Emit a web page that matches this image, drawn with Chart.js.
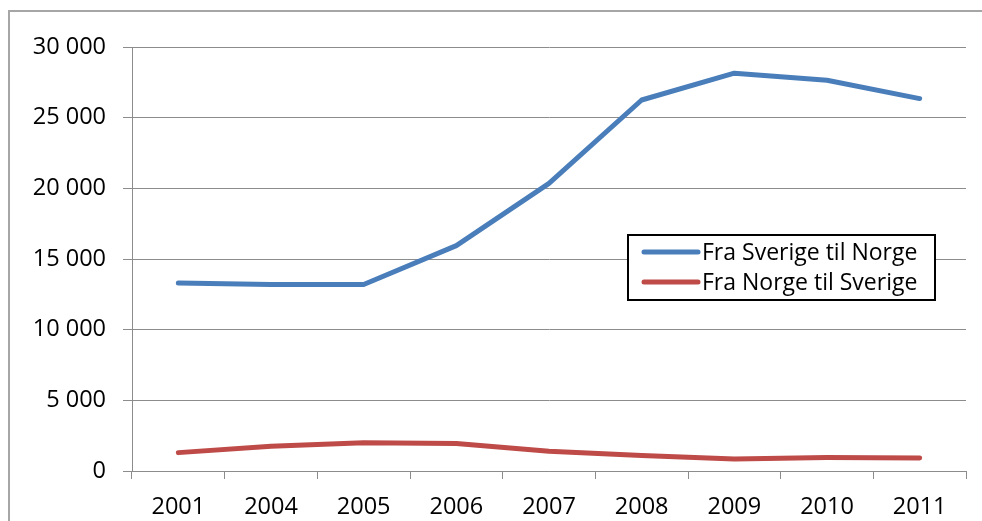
<!DOCTYPE html>
<html>
<head>
<meta charset="utf-8">
<script src="https://cdn.jsdelivr.net/npm/chart.js@4"></script>
<style>
    body { margin: 0; background: #fff; overflow: hidden; }
    #wrap { position: relative; width: 982px; height: 521px; }
    #frame { position: absolute; left: 8px; top: 10px; width: 1100px; height: 600px; border: 2px solid #a6a6a6; box-sizing: border-box; }
    canvas { position: absolute; left: 0; top: 0; }
</style>
</head>
<body>
<div id="wrap">
    <div id="frame"></div>
    <canvas id="chart" width="982" height="521"></canvas>
</div>
<script>
// data
const years = ["2001", "2004", "2005", "2006", "2007", "2008", "2009", "2010", "2011"];
const fraSverige = [13300, 13200, 13200, 15950, 20350, 26250, 28150, 27650, 26350];
const fraNorge = [1300, 1750, 2000, 1950, 1400, 1100, 850, 950, 920];
const yTicks = [0, 5000, 10000, 15000, 20000, 25000, 30000];

const FONT = "'Open Sans', sans-serif";
const GRID = "#8c8c8c";

function formatNum(v) {
    return String(v).replace(/\B(?=(\d{3})+(?!\d))/g, " ");
}

// legend box drawn by hand, like the excel one floating inside the plot
const boxLegend = {
    id: "boxLegend",
    afterDraw(chart) {
        const ctx = chart.ctx;
        const x = 628, y = 235, w = 307, h = 65;
        ctx.save();
        ctx.fillStyle = "#fff";
        ctx.fillRect(x, y, w, h);
        ctx.strokeStyle = "#000";
        ctx.lineWidth = 2;
        ctx.strokeRect(x, y, w, h);
        ctx.font = "23px " + FONT;
        ctx.textBaseline = "middle";
        chart.data.datasets.forEach((ds, i) => {
            const ly = y + 17 + i * 30;
            ctx.strokeStyle = ds.borderColor;
            ctx.lineWidth = 5;
            ctx.lineCap = "round";
            ctx.beginPath();
            ctx.moveTo(x + 16, ly);
            ctx.lineTo(x + 70, ly);
            ctx.stroke();
            ctx.fillStyle = "#000";
            ctx.fillText(ds.label, x + 74, ly + 1);
        });
        ctx.restore();
    }
};

const ctx = document.getElementById("chart").getContext("2d");
new Chart(ctx, {
    type: "line",
    data: {
        labels: years,
        datasets: [
            {
                label: "Fra Sverige til Norge",
                data: fraSverige,
                borderColor: "#4a7ebb",
                borderWidth: 5,
                pointRadius: 0,
                tension: 0,
                borderCapStyle: "round",
                borderJoinStyle: "round"
            },
            {
                label: "Fra Norge til Sverige",
                data: fraNorge,
                borderColor: "#be4b48",
                borderWidth: 5,
                pointRadius: 0,
                tension: 0,
                borderCapStyle: "round",
                borderJoinStyle: "round"
            }
        ]
    },
    options: {
        responsive: false,
        animation: false,
        layout: { padding: { left: 0, top: 47, right: 16, bottom: 0 } },
        plugins: {
            legend: { display: false },
            tooltip: { enabled: false }
        },
        scales: {
            x: {
                offset: true,
                grid: { display: true, drawOnChartArea: false, drawTicks: true, tickLength: 8, color: GRID, offset: true },
                border: { display: true, color: GRID, width: 1 },
                ticks: { color: "#000", font: { family: FONT, size: 23.5 }, padding: 14, maxRotation: 0 },
                afterFit(scale) { scale.height = 50; }
            },
            y: {
                min: 0,
                max: 30000,
                afterBuildTicks(scale) { scale.ticks = yTicks.map(v => ({ value: v })); },
                grid: { color: GRID, tickLength: 9, lineWidth: 1 },
                border: { display: true, color: GRID, width: 1 },
                ticks: { color: "#000", font: { family: FONT, size: 23.5 }, padding: 17, callback: v => formatNum(v) },
                afterFit(scale) { scale.width = 132; }
            }
        }
    },
    plugins: [boxLegend]
});
</script>
</body>
</html>
